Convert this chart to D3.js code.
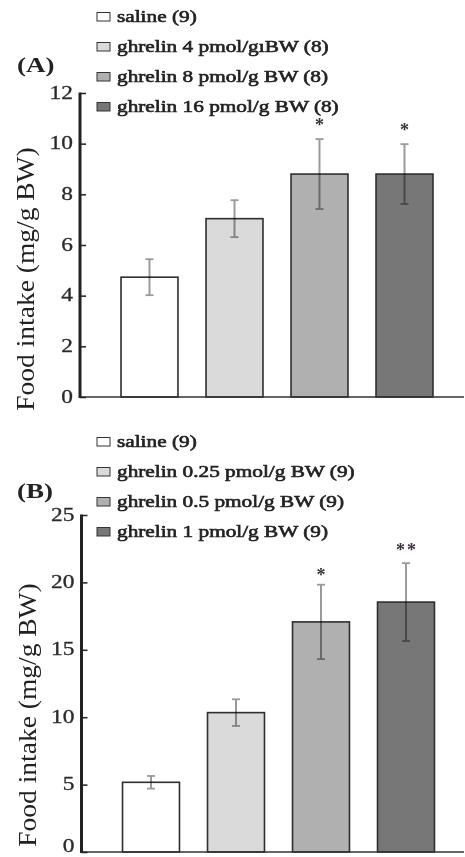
<!DOCTYPE html>
<html>
<head>
<meta charset="utf-8">
<script src="https://cdn.jsdelivr.net/npm/d3@7/dist/d3.min.js"></script>
<style>
  html, body { margin: 0; padding: 0; background: #ffffff; }
  svg { display: block; }
  text { font-family: "Liberation Serif", "Times New Roman", serif; }
</style>
</head>
<body>
<svg id="chart" width="465" height="857"></svg>
<script>
// ---------- data ----------
const groups = ["saline", "dose1", "dose2", "dose3"];

const legendA = ["saline (9)", "ghrelin 4 pmol/g\u0131BW (8)", "ghrelin 8 pmol/g BW (8)", "ghrelin 16 pmol/g BW (8)"];
const meansA = [4.73, 7.04, 8.80, 8.80];
const errA   = [0.71, 0.73, 1.38, 1.18];
const sigA   = ["", "", "*", "*"];
const ticksA = [0, 2, 4, 6, 8, 10, 12];

const legendB = ["saline (9)", "ghrelin 0.25 pmol/g BW (9)", "ghrelin 0.5 pmol/g BW (9)", "ghrelin 1 pmol/g BW (9)"];
const meansB = [5.17, 10.34, 17.07, 18.54];
const errB   = [0.47, 0.99, 2.76, 2.89];
const sigB   = ["", "", "*", "**"];
const ticksB = [0, 5, 10, 15, 20, 25];

const yLabel = "Food intake (mg/g BW)";
const panelLabels = ["(A)", "(B)"];

// ---------- styles ----------
const fills = ["#ffffff", "#dadada", "#b0b0b0", "#777777"];
const SX = 1.3; // horizontal stretch of the original typesetting

const svg = d3.select("#chart");

function stretchedText(g, x, y, str, opts) {
  const t = g.append("text")
    .attr("transform", `translate(${x},${y})` + (opts.rotate ? ` rotate(${opts.rotate})` : "") + ` scale(${opts.sx || SX},1)`)
    .attr("text-anchor", opts.anchor || "start")
    .style("font-size", opts.size + "px")
    .style("font-weight", opts.weight || "normal")
    .attr("fill", opts.fill || "#1a1a1a")
    .text(str);
  if (opts.stroke) t.attr("stroke", opts.fill || "#1a1a1a").attr("stroke-width", opts.stroke);
  return t;
}

function drawPanel(cfg) {
  const g = svg.append("g");
  const x = d3.scaleBand().domain(groups).range(cfg.xRange).paddingInner(0.33).paddingOuter(0.165);
  const y = d3.scaleLinear().domain([0, cfg.ticks[cfg.ticks.length - 1]]).range([cfg.y0, cfg.y1]);

  // legend
  const leg = g.append("g");
  cfg.legend.forEach((lab, i) => {
    const by = cfg.legendTop + i * 30;
    leg.append("rect")
      .attr("x", 97).attr("y", by - 9.5)
      .attr("width", 13).attr("height", 8.5)
      .attr("fill", fills[i]).attr("stroke", "#333").attr("stroke-width", 1);
    stretchedText(leg, 117, by, lab, { size: 16, sx: 1.33, fill: "#222", stroke: 0.6 });
  });

  // panel label
  stretchedText(g, 17, cfg.panelLabelY, cfg.panelLabel, { size: 20, weight: "bold", sx: 1.35, fill: "#222" });

  // bars
  g.selectAll("rect.bar").data(cfg.means).enter().append("rect")
    .attr("class", "bar")
    .attr("x", (d, i) => x(groups[i]))
    .attr("y", d => y(d))
    .attr("width", x.bandwidth())
    .attr("height", d => y(0) - y(d))
    .attr("fill", (d, i) => fills[i])
    .attr("stroke", "#2e2e2e").attr("stroke-width", 1.6);

  // error bars (multiply blended like the original)
  const eb = g.append("g").style("mix-blend-mode", "multiply")
    .attr("stroke", "#9a9a9a").attr("stroke-width", 2);
  cfg.means.forEach((m, i) => {
    const cx = x(groups[i]) + x.bandwidth() / 2;
    const hi = y(m + cfg.err[i]), lo = y(m - cfg.err[i]);
    eb.append("line").attr("x1", cx).attr("x2", cx).attr("y1", hi).attr("y2", lo);
    eb.append("line").attr("x1", cx - 4).attr("x2", cx + 4).attr("y1", hi).attr("y2", hi).attr("stroke-width", 1.8);
    eb.append("line").attr("x1", cx - 4).attr("x2", cx + 4).attr("y1", lo).attr("y2", lo).attr("stroke-width", 1.8);
  });

  // significance marks
  cfg.sig.forEach((s, i) => {
    if (!s) return;
    const cx = x(groups[i]) + x.bandwidth() / 2 + 1;
    const hi = y(cfg.means[i] + cfg.err[i]);
    g.append("text")
      .attr("x", cx).attr("y", hi - cfg.sigGap[i] + 8)
      .attr("text-anchor", "middle")
      .style("font-size", "18px").style("font-weight", "bold")
      .attr("fill", "#3a3040")
      .attr("letter-spacing", "2px")
      .text(s);
  });

  // baseline
  g.append("line")
    .attr("x1", x.range()[0] - 28).attr("x2", 464)
    .attr("y1", y(0)).attr("y2", y(0))
    .attr("stroke", "#333").attr("stroke-width", 1.5);

  // y axis
  const axis = d3.axisRight(y).tickValues(cfg.ticks).tickSize(6).tickFormat("");
  const ag = g.append("g").attr("transform", `translate(${cfg.axisX},0)`).call(axis);
  ag.select(".domain").remove();
  ag.selectAll(".tick line").attr("stroke", "#222").attr("stroke-width", 1.5);
  g.append("line")
    .attr("x1", cfg.axisX).attr("x2", cfg.axisX)
    .attr("y1", y(cfg.ticks[cfg.ticks.length - 1]) - 0.5).attr("y2", y(0) + 1)
    .attr("stroke", "#222").attr("stroke-width", 3);

  // tick labels
  cfg.ticks.forEach(t => {
    const ty = Math.min(y(t) + 5.5, 852);
    stretchedText(g, cfg.axisX - 7, ty, String(t), { size: 18, anchor: "end", sx: 1.3, fill: "#2a2a2a", stroke: 0.3 });
  });

  // y label
  stretchedText(g, cfg.labelX, cfg.labelCY, yLabel, { size: 25, anchor: "middle", rotate: -90, sx: 1.1, fill: "#222" });
}

drawPanel({
  legend: legendA, legendTop: 22, panelLabel: panelLabels[0], panelLabelY: 72,
  means: meansA, err: errA, sig: sigA, sigGap: [0, 0, 16, 16], ticks: ticksA,
  xRange: [107, 447], y0: 397, y1: 93, axisX: 80,
  labelX: 34, labelCY: 279
});

drawPanel({
  legend: legendB, legendTop: 447, panelLabel: panelLabels[1], panelLabelY: 498,
  means: meansB, err: errB, sig: sigB, sigGap: [0, 0, 12, 15], ticks: ticksB,
  xRange: [108.5, 448.5], y0: 852, y1: 515, axisX: 81.5,
  labelX: 36, labelCY: 715
});
</script>
</body>
</html>
